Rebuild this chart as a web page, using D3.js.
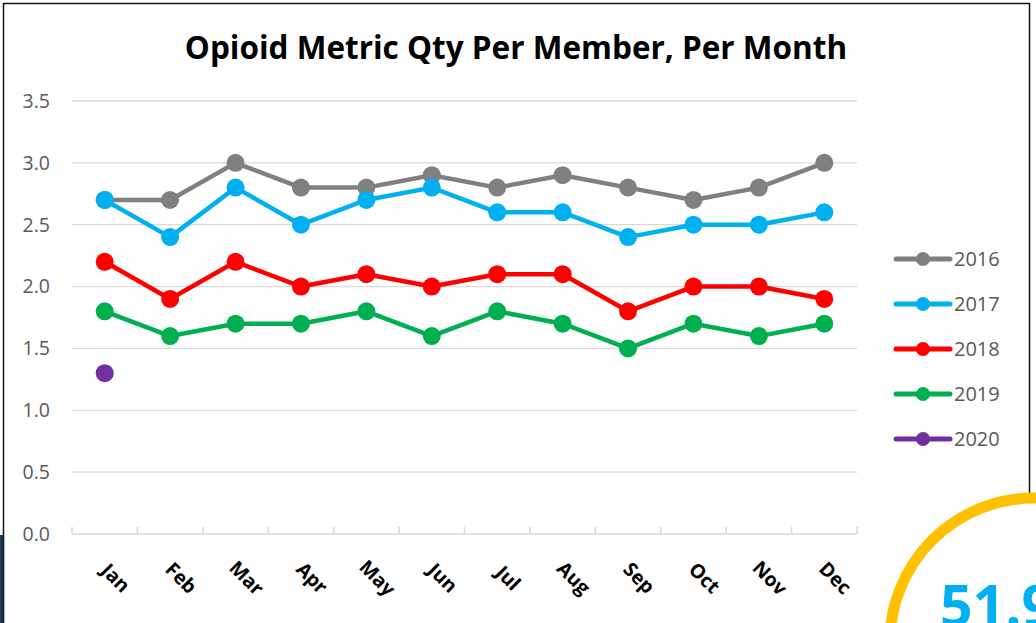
<html>
<head>
<meta charset='UTF-8'>
<title>Opioid Metric Qty Per Member, Per Month</title>
<script src='https://d3js.org/d3.v7.min.js'></script>
<style>
  body { margin: 0; background: #fff; }
  svg { display: block; }
</style>
</head>
<body>
<div id='chart'></div>
<script type='text/javascript'>
    var months = ['Jan', 'Feb', 'Mar', 'Apr', 'May', 'Jun', 'Jul', 'Aug', 'Sep', 'Oct', 'Nov', 'Dec'];
    var years = ['2016', '2017', '2018', '2019', '2020'];
    var v2016 = [2.7, 2.7, 3.0, 2.8, 2.8, 2.9, 2.8, 2.9, 2.8, 2.7, 2.8, 3.0];
    var v2017 = [2.7, 2.4, 2.8, 2.5, 2.7, 2.8, 2.6, 2.6, 2.4, 2.5, 2.5, 2.6];
    var v2018 = [2.2, 1.9, 2.2, 2.0, 2.1, 2.0, 2.1, 2.1, 1.8, 2.0, 2.0, 1.9];
    var v2019 = [1.8, 1.6, 1.7, 1.7, 1.8, 1.6, 1.8, 1.7, 1.5, 1.7, 1.6, 1.7];
    var v2020 = [1.3];
    var yTicks = [0, 0.5, 1.0, 1.5, 2.0, 2.5, 3.0, 3.5];
    var badgeValue = '51.9';

    var colors = ['#808080', '#00B0F0', '#FF0000', '#00B050', '#7030A0'];
    var series = [v2016, v2017, v2018, v2019, v2020];

    var width = 1036, height = 623;
    var svg = d3.select('#chart').append('svg')
                .attr('width', width)
                .attr('height', height)
                .style('font-family', "'Open Sans', sans-serif");

    // frame
    svg.append('rect')
       .attr('x', 0).attr('y', 535).attr('width', 3).attr('height', 88)
       .attr('fill', '#1F3B5C');
    svg.append('rect')
       .attr('x', 3.5).attr('y', 3.5).attr('width', 1026).attr('height', 640)
       .attr('fill', 'white').attr('stroke', '#111').attr('stroke-width', 1.5);

    var x = d3.scaleBand().domain(months).range([72, 857]);
    var y = d3.scaleLinear().domain([0, 3.5]).range([534, 101]);

    // gridlines
    svg.append('g').selectAll('line')
       .data(yTicks.slice(1))
       .enter().append('line')
         .attr('x1', 72).attr('x2', 857)
         .attr('y1', function(d) { return y(d); })
         .attr('y2', function(d) { return y(d); })
         .attr('stroke', '#D9D9D9').attr('stroke-width', 1.3);

    // y labels
    svg.append('g').selectAll('text')
       .data(yTicks)
       .enter().append('text')
         .attr('x', 50)
         .attr('y', function(d) { return y(d); })
         .attr('dy', '0.35em')
         .attr('text-anchor', 'end')
         .attr('fill', '#595959')
         .style('font-size', '19.5px')
         .text(function(d) { return d.toFixed(1); });

    // x axis with inside ticks
    var xAxis = svg.append('g');
    xAxis.append('line')
         .attr('x1', 72).attr('x2', 857)
         .attr('y1', y(0)).attr('y2', y(0))
         .attr('stroke', '#D9D9D9').attr('stroke-width', 1.5);
    xAxis.selectAll('.tick')
         .data(months.concat(['end']))
         .enter().append('line')
           .attr('x1', function(d, i) { return 72 + i * x.step(); })
           .attr('x2', function(d, i) { return 72 + i * x.step(); })
           .attr('y1', y(0)).attr('y2', y(0) - 7)
           .attr('stroke', '#D9D9D9').attr('stroke-width', 1.5);
    xAxis.selectAll('text')
         .data(months)
         .enter().append('text')
           .attr('transform', function(d) {
               return 'translate(' + (x(d) + x.bandwidth() / 2 + 11) + ',' + 578 + ') rotate(45)';
           })
           .attr('text-anchor', 'middle')
           .attr('dy', '0.35em')
           .style('font-size', '19.5px')
           .style('font-weight', 'bold')
           .attr('fill', '#000')
           .text(function(d) { return d; });

    // lines and markers
    var line = d3.line()
                 .x(function(d, i) { return x(months[i]) + x.bandwidth() / 2; })
                 .y(function(d) { return y(d); });

    series.forEach(function(vals, s) {
        var g = svg.append('g');
        if (vals.length > 1) {
            g.append('path')
             .attr('d', line(vals))
             .attr('fill', 'none')
             .attr('stroke', colors[s])
             .attr('stroke-width', 4.5)
             .attr('stroke-linejoin', 'round');
        }
        g.selectAll('circle')
         .data(vals)
         .enter().append('circle')
           .attr('cx', function(d, i) { return x(months[i]) + x.bandwidth() / 2; })
           .attr('cy', function(d) { return y(d); })
           .attr('r', 9)
           .attr('fill', colors[s]);
    });

    // title
    svg.append('text')
       .attr('x', 516).attr('y', 59)
       .attr('text-anchor', 'middle')
       .style('font-size', '31.5px')
       .style('font-weight', 'bold')
       .attr('fill', '#000')
       .text('Opioid Metric Qty Per Member, Per Month');

    // legend
    var legend = svg.append('g').selectAll('g')
                    .data(years)
                    .enter().append('g')
                    .attr('transform', function(d, i) { return 'translate(896,' + (259 + i * 45) + ')'; });
    legend.append('line')
          .attr('x1', 0).attr('x2', 54)
          .attr('stroke', function(d, i) { return colors[i]; })
          .attr('stroke-width', 5)
          .attr('stroke-linecap', 'round');
    legend.append('circle')
          .attr('cx', 27).attr('r', 7)
          .attr('fill', function(d, i) { return colors[i]; });
    legend.append('text')
          .attr('x', 58).attr('dy', '0.35em')
          .attr('fill', '#595959')
          .style('font-size', '20px')
          .text(function(d) { return d; });

    // badge circle
    svg.append('circle')
       .attr('cx', 1034).attr('cy', 642).attr('r', 144)
       .attr('fill', 'white')
       .attr('stroke', '#FFC000').attr('stroke-width', 11);
    svg.append('text')
       .attr('x', 940).attr('y', 626)
       .style('font-size', '57px')
       .style('font-weight', 'bold')
       .attr('fill', '#00B0F0')
       .text(badgeValue);
</script>
</body>
</html>
